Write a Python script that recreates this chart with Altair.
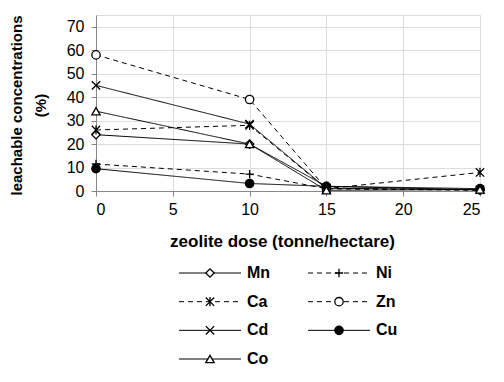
import altair as alt
import pandas as pd

# ---- data ----
dose = [0, 10, 15, 25]
series_order = ["Mn", "Ni", "Ca", "Zn", "Cd", "Cu", "Co"]
Mn = [24, 20, 2, 0.5]
Ni = [11.5, 7.2, 1, 0.3]
Ca = [26, 28, 1, 7.9]
Zn = [58, 39, 1, 0.5]
Cd = [45, 28.5, 1.2, 0.5]
Cu = [9.5, 3.2, 2, 1]
Co = [34, 20, 0.3, 0.6]

values = {"Mn": Mn, "Ni": Ni, "Ca": Ca, "Zn": Zn, "Cd": Cd, "Cu": Cu, "Co": Co}

# legend grid position (column, row)
legend_col = [0, 1, 0, 1, 0, 1, 0]
legend_row = [0, 0, 1, 1, 2, 2, 3]

x_ticks = [0, 5, 10, 15, 20, 25]
y_ticks = [0, 10, 20, 30, 40, 50, 60, 70]

# ---- styles ----
shapes = [
    "diamond",
    "M-1,0H1M0,-1V1",
    "M-1,-1L1,1M-1,1L1,-1M0,-1.1V1.1",
    "circle",
    "M-1,-1L1,1M-1,1L1,-1",
    "circle",
    "triangle-up",
]
fills = ["white", "white", "white", "white", "white", "black", "white"]
dashes = [[1, 0], [5, 4], [5, 4], [5, 4], [1, 0], [1, 0], [1, 0]]

rows = []
for s in series_order:
    for d, v in zip(dose, values[s]):
        rows.append({"series": s, "dose": d, "value": v})
df = pd.DataFrame(rows)

leg = pd.DataFrame({"series": series_order, "col": legend_col, "row": legend_row})

FONT = "Liberation Sans"

shape_enc = alt.Shape("series:N", scale=alt.Scale(domain=series_order, range=shapes), legend=None)
fill_enc = alt.Fill("series:N", scale=alt.Scale(domain=series_order, range=fills), legend=None)
dash_enc = alt.StrokeDash("series:N", scale=alt.Scale(domain=series_order, range=dashes), legend=None)

xs = alt.X(
    "dose:Q",
    scale=alt.Scale(domain=[0, 25], nice=False),
    axis=alt.Axis(
        values=x_ticks, tickCount=6, title="zeolite dose (tonne/hectare)", titleX=186, titleY=55,
        titleBaseline="alphabetic", titleAlign="center", titleFontSize=17,
        labelPadding=5, tickSize=5, labelFontSize=16, labelFont=FONT,
        labelOverlap=False, labelColor="black",
    ),
)
ys = alt.Y(
    "value:Q",
    scale=alt.Scale(domain=[0, 75], nice=False),
    axis=alt.Axis(
        values=y_ticks, tickCount=8, title=["leachable concentrations", "(%)"], titleX=-80, titleY=90,
        titleAngle=270, titleBaseline="middle", titleAlign="center", titleFontSize=15,
        titleLineHeight=24, labelPadding=7, tickSize=5, labelFontSize=16, labelFont=FONT,
        labelOverlap=False, labelColor="black",
    ),
)

lines = alt.Chart(df).mark_line(color="black", strokeWidth=1).encode(
    x=xs, y=ys, strokeDash=dash_enc, detail="series:N", order="dose:Q"
)
points = alt.Chart(df).mark_point(filled=True, stroke="black", strokeWidth=1.3, size=70, opacity=1).encode(
    x=xs, y=ys, shape=shape_enc, fill=fill_enc
)
main = alt.layer(lines, points)

lx = alt.X("col:Q", scale=alt.Scale(domain=[0, 1], range=[114, 243]), axis=None)
ly = alt.Y("row:Q", scale=alt.Scale(domain=[0, 3], range=[258, 344]), axis=None)

leg_rules = alt.Chart(leg).mark_rule(color="black", strokeWidth=1, xOffset=-31, x2Offset=31).encode(
    x=lx, x2="col:Q", y=ly, strokeDash=dash_enc
)
leg_points = alt.Chart(leg).mark_point(filled=True, stroke="black", strokeWidth=1.3, size=70, opacity=1).encode(
    x=lx, y=ly, shape=shape_enc, fill=fill_enc
)
leg_text = alt.Chart(leg).mark_text(
    align="left", baseline="middle", dx=37, font=FONT, fontSize=16, fontWeight="bold", color="black"
).encode(x=lx, y=ly, text="series:N")
legend = alt.layer(leg_rules, leg_points, leg_text)

chart = (
    alt.layer(main, legend)
    .resolve_scale(x="independent", y="independent")
    .properties(
        width=384, height=176,
        autosize=alt.AutoSizeParams(type="none"),
        padding={"left": 88, "top": 7, "right": 16, "bottom": 183},
    )
    .configure_view(stroke="#666666", strokeWidth=1)
    .configure_axis(
        grid=False, domainColor="black", tickColor="black", labelColor="black",
        titleColor="black", labelFont=FONT, titleFont=FONT, labelFontSize=16,
        titleFontWeight="bold", labelFontWeight="normal", domainWidth=1, tickWidth=1,
    )
    .configure(background="white")
)

chart.save("out.html", embed_options={"renderer": "svg", "actions": False})
